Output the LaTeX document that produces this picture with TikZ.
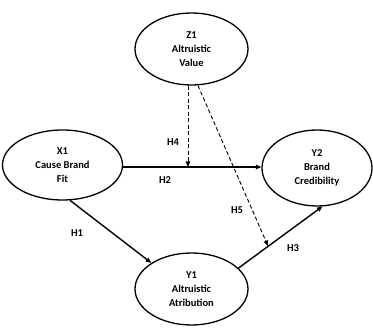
\documentclass[tikz,border=0pt]{standalone}
\usepackage{fontspec}
\setmainfont{Carlito}
\usetikzlibrary{shapes.geometric,arrows.meta,calc}
\begin{document}
\begin{tikzpicture}[x=1pt,y=-1pt,
  var/.style={ellipse,draw,line width=1.3pt,minimum width=#1,align=center,font=\fontsize{10.5}{14}\selectfont\bfseries,inner sep=0pt},
  var/.default=113pt,
  arr/.style={line width=1.4pt,-{Triangle[length=5.5pt,width=4.5pt]}},
  darr/.style={line width=0.9pt,dash pattern=on 4pt off 2.5pt,-{Triangle[length=5.5pt,width=4.5pt]}},
  lab/.style={font=\fontsize{10.5}{12}\selectfont\bfseries,inner sep=1pt}]
\useasboundingbox (0,0) rectangle (373,331);
\node[var, minimum height=72pt] (z1) at (191.5,49) {Z1\\Altruistic\\Value};
\node[var=120pt, minimum height=70pt] (x1) at (62.5,165) {X1\\Cause Brand\\Fit};
\node[var=110pt, minimum height=76pt] (y2) at (317,168) {Y2\\Brand\\Credibility};
\node[var, minimum height=72pt] (y1) at (191.5,289) {Y1\\Altruistic\\Atribution};
\coordinate (m) at (188,167);
\coordinate (h5e) at (268,246);
\draw[arr] (x1.east |- m) -- (y2.west |- m);
\draw[arr] (x1.-78) -- (y1.147);
\draw[arr] (y1.24) -- (y2.-82);
\draw[darr] (z1.south -| m) -- (m);
\draw[darr] ($(z1.south)+(6.5,0)$) -- (h5e);
\node[lab] (lh4) at (173,142) {H4};
\node[lab] (lh2) at (165,180) {H2};
\node[lab] (lh5) at (237,210) {H5};
\node[lab] (lh1) at (77,233) {H1};
\node[lab] (lh3) at (293,248) {H3};
\end{tikzpicture}
\end{document}
